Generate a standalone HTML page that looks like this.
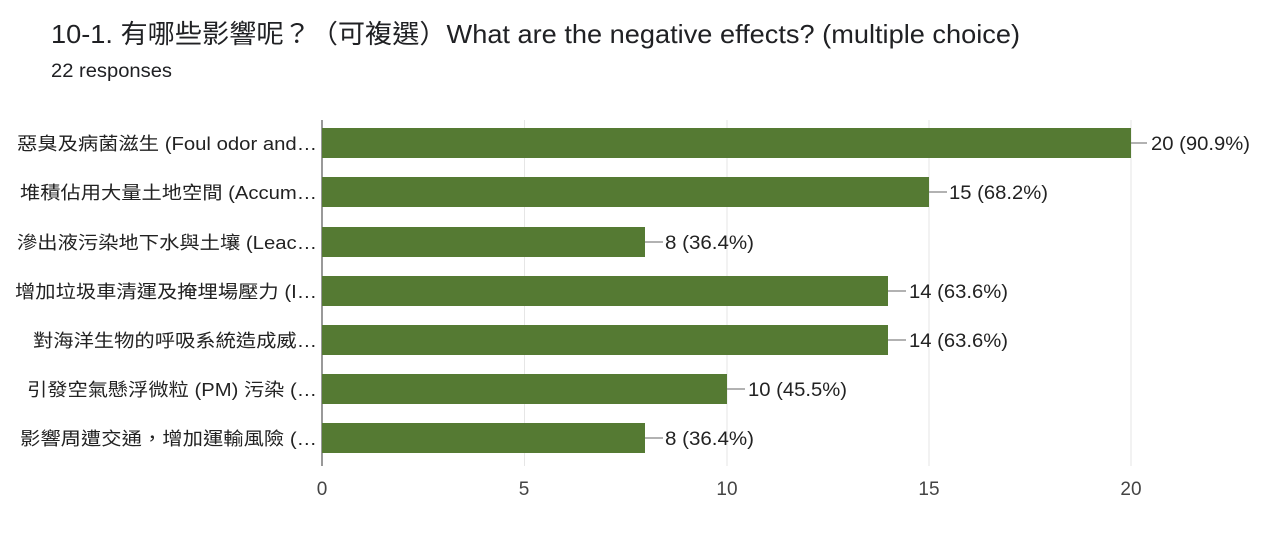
<!DOCTYPE html>
<html><head><meta charset="utf-8"><style>
body{margin:0;background:#fff;width:1271px;height:541px;overflow:hidden;font-family:"Liberation Sans","Noto Sans CJK TC",sans-serif;}
</style></head><body>
<svg width="1271" height="541" xmlns="http://www.w3.org/2000/svg" font-family="Liberation Sans, Noto Sans CJK TC, sans-serif">
<text x="51" y="43" font-size="26" fill="#202124" textLength="969" lengthAdjust="spacingAndGlyphs">10-1. 有哪些影響呢？（可複選）What are the negative effects? (multiple choice)</text>
<text x="51" y="77" font-size="19" fill="#202124" textLength="121" lengthAdjust="spacingAndGlyphs">22 responses</text>
<g stroke="#e6e6e6" stroke-width="1">
<line x1="524.5" y1="120" x2="524.5" y2="466"/>
<line x1="727" y1="120" x2="727" y2="466"/>
<line x1="929" y1="120" x2="929" y2="466"/>
<line x1="1131" y1="120" x2="1131" y2="466"/>
</g>
<line x1="322" y1="120" x2="322" y2="466" stroke="#333" stroke-width="1"/>
<g font-size="19" fill="#444" text-anchor="middle">
<text x="322" y="495">0</text><text x="524" y="495">5</text><text x="727" y="495">10</text><text x="929" y="495">15</text><text x="1131" y="495">20</text>
</g>
<g fill="#557a33">
<rect x="322" y="128" width="809" height="30"/>
<rect x="322" y="177" width="607" height="30"/>
<rect x="322" y="227" width="323" height="30"/>
<rect x="322" y="276" width="566" height="30"/>
<rect x="322" y="325" width="566" height="30"/>
<rect x="322" y="374" width="405" height="30"/>
<rect x="322" y="423" width="323" height="30"/>
</g>
<g stroke="#999" stroke-width="1.5">
<line x1="1131" y1="143" x2="1147" y2="143"/>
<line x1="929" y1="192" x2="947" y2="192"/>
<line x1="645" y1="242" x2="663" y2="242"/>
<line x1="888" y1="291" x2="906" y2="291"/>
<line x1="888" y1="340" x2="906" y2="340"/>
<line x1="727" y1="389" x2="745" y2="389"/>
<line x1="645" y1="438" x2="663" y2="438"/>
</g>
<g font-size="19" fill="#222">
<text x="1151" y="150" textLength="99" lengthAdjust="spacingAndGlyphs">20 (90.9%)</text>
<text x="949" y="199" textLength="99" lengthAdjust="spacingAndGlyphs">15 (68.2%)</text>
<text x="665" y="249" textLength="89" lengthAdjust="spacingAndGlyphs">8 (36.4%)</text>
<text x="909" y="298" textLength="99" lengthAdjust="spacingAndGlyphs">14 (63.6%)</text>
<text x="909" y="347" textLength="99" lengthAdjust="spacingAndGlyphs">14 (63.6%)</text>
<text x="748" y="396" textLength="99" lengthAdjust="spacingAndGlyphs">10 (45.5%)</text>
<text x="665" y="445" textLength="89" lengthAdjust="spacingAndGlyphs">8 (36.4%)</text>
</g>
<g font-size="18" fill="#222">
<text x="17" y="150" textLength="300" lengthAdjust="spacingAndGlyphs">惡臭及病菌滋生 (Foul odor and…</text>
<text x="20" y="199" textLength="297" lengthAdjust="spacingAndGlyphs">堆積佔用大量土地空間 (Accum…</text>
<text x="17" y="249" textLength="300" lengthAdjust="spacingAndGlyphs">滲出液污染地下水與土壤 (Leac…</text>
<text x="15" y="298" textLength="302" lengthAdjust="spacingAndGlyphs">增加垃圾車清運及掩埋場壓力 (I…</text>
<text x="33" y="347" textLength="284" lengthAdjust="spacingAndGlyphs">對海洋生物的呼吸系統造成威…</text>
<text x="27" y="396" textLength="290" lengthAdjust="spacingAndGlyphs">引發空氣懸浮微粒 (PM) 污染 (…</text>
<text x="20" y="445" textLength="297" lengthAdjust="spacingAndGlyphs">影響周遭交通，增加運輸風險 (…</text>
</g>
</svg>
</body></html>
